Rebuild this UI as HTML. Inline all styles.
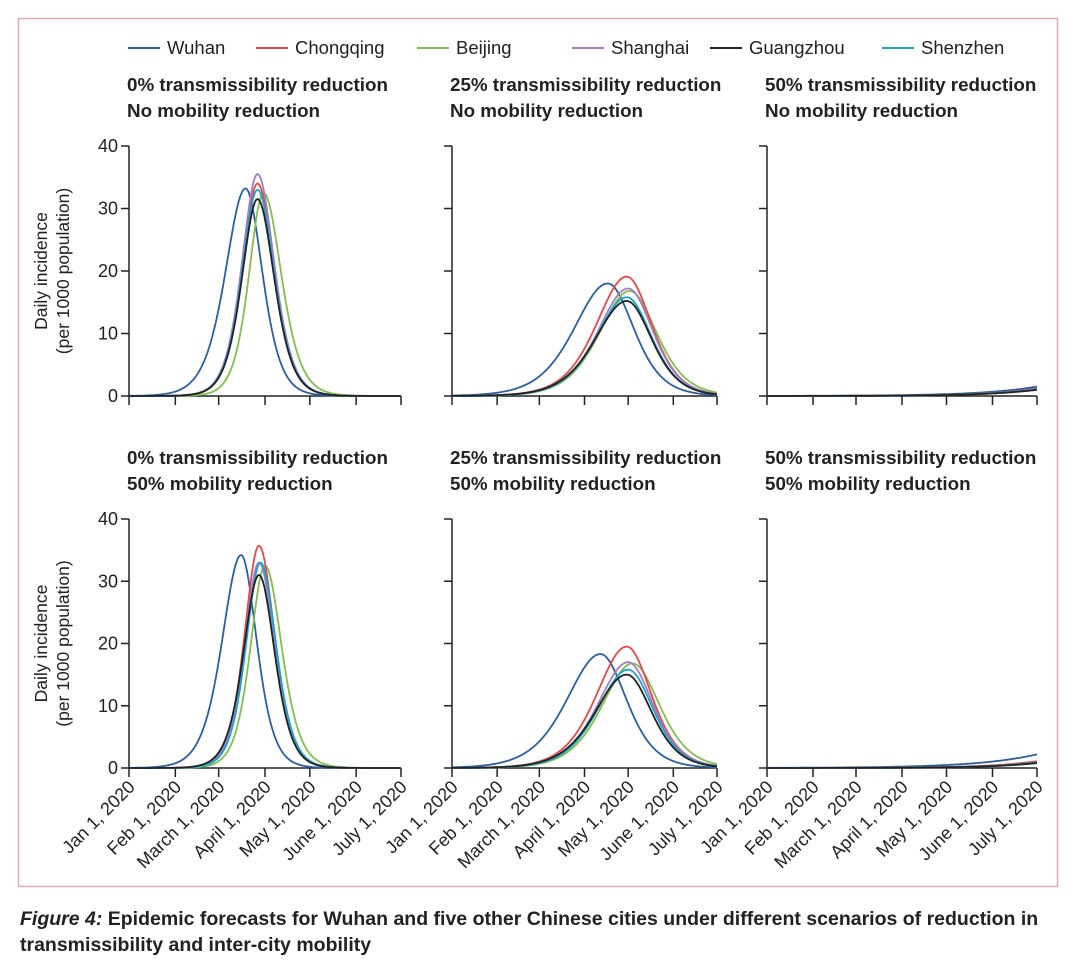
<!DOCTYPE html>
<html><head><meta charset="utf-8">
<style>
body{margin:0;background:#fff;width:1080px;height:959px;overflow:hidden;font-family:"Liberation Sans",sans-serif;}
svg text{font-family:"Liberation Sans",sans-serif;fill:#222;}
</style></head><body>
<svg id="fig" width="1080" height="959" viewBox="0 0 1080 959" xmlns="http://www.w3.org/2000/svg">
<rect x="18.5" y="18.5" width="1039" height="868" fill="none" stroke="#e3a9b4" stroke-width="1.5"/>
<g id="legend"></g>
<g id="panels"></g>
<text x="20" y="925" font-size="19.5" font-weight="bold" fill="#222"><tspan font-style="italic">Figure 4:</tspan> Epidemic forecasts for Wuhan and five other Chinese cities under different scenarios of reduction in</text>
<text x="20" y="951" font-size="19.5" font-weight="bold" fill="#222">transmissibility and inter-city mobility</text>
</svg>
<script>
const cities = ["Wuhan","Chongqing","Beijing","Shanghai","Guangzhou","Shenzhen"];
const colors = ["#2d5f9e","#e5484b","#84bd50","#a07fbf","#222222","#1ea3cc"];
const xTickLabels = ["Jan 1, 2020","Feb 1, 2020","March 1, 2020","April 1, 2020","May 1, 2020","June 1, 2020","July 1, 2020"];
const xTickDays = [0,31,60,91,121,152,182];
const yTicks = [0,10,20,30,40];
const titles1 = ["0% transmissibility reduction","25% transmissibility reduction","50% transmissibility reduction","0% transmissibility reduction","25% transmissibility reduction","50% transmissibility reduction"];
const titles2 = ["No mobility reduction","No mobility reduction","No mobility reduction","50% mobility reduction","50% mobility reduction","50% mobility reduction"];
// epidemic curve parameters per panel (peak day, peak incidence, left/right spread in days)
const peakDay = [
 [78,86,90,86,86,86],
 [107,120,122,121,120,120],
 null,
 [75,87,91,87,87,88],
 [102,120,124,121,120,121],
 null];
const peakValue = [
 [33.2,34.0,32.5,35.5,31.5,33.0],
 [18.0,19.1,16.8,17.2,15.2,15.8],
 null,
 [34.2,35.7,32.5,33.0,31.0,33.0],
 [18.3,19.5,16.8,17.0,15.0,15.8],
 null];
const spreadLeft = [
 [18,14,13,14,14,14],
 [31,28,28,28,29,28],
 null,
 [17,13,13,13,14,13],
 [31,28,28,28,29,28],
 null];
const spreadRight = [
 [15,15,16,15,15,15],
 [24,23,25,23,23,23],
 null,
 [14,14,15,14,14,14],
 [24,23,25,23,23,23],
 null];
// early-growth panels: incidence on July 1 and e-folding days
const endValue = [null,null,[1.5,1.2,1.0,1.1,1.0,1.1],null,null,[2.2,1.1,0.8,0.9,0.8,0.9]];
const efold = [null,null,[38,34,34,34,34,34],null,null,[40,32,32,32,32,32]];

const NS="http://www.w3.org/2000/svg";
function mk(tag,attrs,parent){const e=document.createElementNS(NS,tag);for(const k in attrs)e.setAttribute(k,attrs[k]);parent.appendChild(e);return e;}
const panelX=[[129,401],[452,717],[767,1037]];
const rowY=[[396,146],[768,519]];
const root=document.getElementById('panels');
const leg=document.getElementById('legend');
const legX=[128,256,417,572,710,882];
cities.forEach((c,i)=>{
  const g=mk('g',{},leg);
  
  
  mk('line',{x1:legX[i],x2:legX[i]+32,y1:48,y2:48,stroke:colors[i],'stroke-width':2},g);
  const t=mk('text',{x:legX[i]+39,y:54,'font-size':18.5},g);t.textContent=c;
});
function sech2(z){const c=Math.cosh(z);return 1/(c*c);}
for(let p=0;p<6;p++){
  const r=Math.floor(p/3),col=p%3;
  const [x0,x1]=panelX[col],[y0,y1]=rowY[r];
  const xs=d=>x0+(x1-x0)*d/182, ys=v=>y0+(y1-y0)*v/40;
  const g=mk('g',{},root);
  
  
  const tt=mk('text',{x:x0-2,y:y1-55,'font-size':18.8,'font-weight':'bold'},g);tt.textContent=titles1[p];
  
  const t2=mk('text',{x:x0-2,y:y1-29,'font-size':18.8,'font-weight':'bold'},g);t2.textContent=titles2[p];
  
  const ax=mk('g',{stroke:'#222','stroke-width':1.5},g);
  
  mk('line',{x1:x0,x2:x0,y1:y1,y2:y0},ax);
  mk('line',{x1:x0,x2:x1,y1:y0,y2:y0},ax);
  yTicks.forEach(v=>{mk('line',{x1:x0-8,x2:x0,y1:ys(v),y2:ys(v)},ax);
    if(col==0){const t=mk('text',{x:x0-11,y:ys(v)+6,'font-size':18,'text-anchor':'end',stroke:'none'},g);t.textContent=v;}});
  xTickDays.forEach((d,i)=>{mk('line',{x1:xs(d),x2:xs(d),y1:y0,y2:y0+9},ax);
    if(r==1){const t=mk('text',{x:0,y:0,'font-size':18,'text-anchor':'end',transform:`translate(${xs(d)+7},${y0+20}) rotate(-45)`},g);t.textContent=xTickLabels[i];}});
  if(col==0){const t=mk('text',{x:0,y:0,'font-size':17.5,'text-anchor':'middle',transform:`translate(52,${(y0+y1)/2}) rotate(-90)`},g);
    
    const s1=mk('tspan',{x:0,dy:-5},t);s1.textContent='Daily incidence';
    const s2=mk('tspan',{x:0,dy:22},t);s2.textContent='(per 1000 population)';}
  const order=[0,2,1,3,5,4];
  order.forEach(i=>{
    let d='';
    for(let day=0;day<=182;day+=0.5){
      let v;
      if(peakDay[p]){const s=day<peakDay[p][i]?spreadLeft[p][i]:spreadRight[p][i];v=peakValue[p][i]*sech2((day-peakDay[p][i])/s);}
      else v=endValue[p][i]*Math.exp((day-182)/efold[p][i]);
      d+=(day?'L':'M')+xs(day).toFixed(1)+','+ys(v).toFixed(1);
    }
    const path=mk('path',{d:d,fill:'none',stroke:colors[i],'stroke-width':1.8},g);
    
    
  });
}
</script>
</body></html>
